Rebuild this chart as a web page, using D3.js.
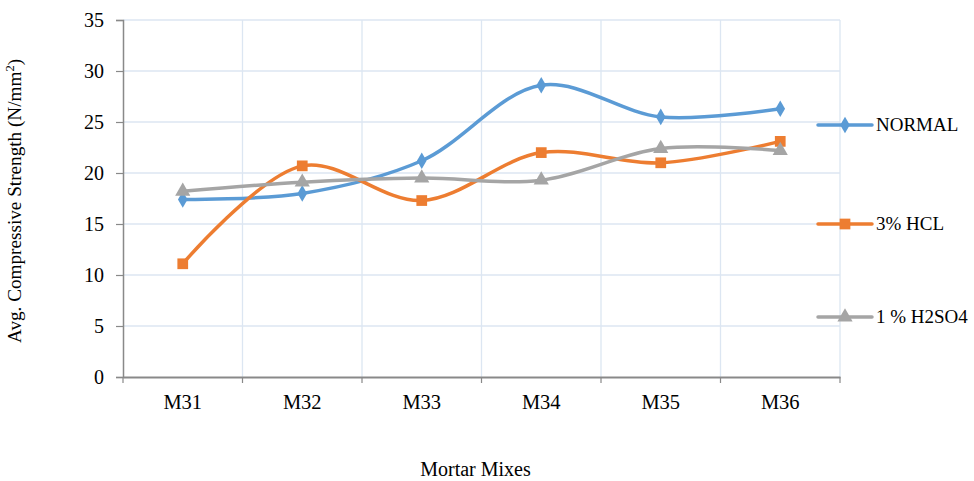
<!DOCTYPE html>
<html><head><meta charset="utf-8">
<script src="https://cdn.jsdelivr.net/npm/d3@7"></script>
<style>body{margin:0;background:#fff}svg{display:block}
svg text{font-family:"Liberation Serif","Times New Roman",Tinos,"DejaVu Serif",serif !important;fill:#000}</style>
</head><body>
<svg id="c" width="974" height="481"></svg>
<script>
const categories = ["M31","M32","M33","M34","M35","M36"];
const seriesNames = ["NORMAL","3% HCL","1 % H2SO4"];
const normal = [17.4, 18.0, 21.2, 28.6, 25.5, 26.3];
const hcl = [11.1, 20.7, 17.3, 22.0, 21.0, 23.1];
const h2so4 = [18.2, 19.1, 19.5, 19.3, 22.4, 22.2];
const yTicks = [0,5,10,15,20,25,30,35];

const colors = ["#5b9bd5","#ed7d31","#a5a5a5"];
const symbols = [d3.symbolDiamond, d3.symbolSquare, d3.symbolTriangle];
const symSizes = [80, 115, 100];
const data = [normal, hcl, h2so4];
const FONT = '"Liberation Serif", "Times New Roman", Tinos, "DejaVu Serif", serif';

const svg = d3.select("#c");
const L = 123, R = 840, T = 20, B = 377;
const x = d3.scaleBand().domain(categories).range([L, R]);
const y = d3.scaleLinear().domain([0,35]).range([B, T]);

// gridlines
const g = svg.append("g");
g.selectAll("line.h").data(yTicks.filter(d=>d>0)).join("line")
  .attr("x1", L).attr("x2", R).attr("y1", d=>y(d)).attr("y2", d=>y(d))
  .attr("stroke", "#dce6f2").attr("stroke-width", 1.3);
const bounds = categories.map(c => x(c)).slice(1).concat([R]);
g.selectAll("line.v").data(bounds).join("line")
  .attr("x1", d=>d).attr("x2", d=>d).attr("y1", T).attr("y2", B)
  .attr("stroke", "#dce6f2").attr("stroke-width", 1.3);

// y axis
const ya = svg.append("g").attr("transform", `translate(${L},0)`)
  .call(d3.axisLeft(y).tickValues(yTicks).tickSize(7).tickPadding(12));
ya.attr("font-family", FONT);
ya.select(".domain").attr("stroke", "#898989").attr("stroke-width", 1.5);
ya.selectAll(".tick line").attr("stroke", "#898989").attr("stroke-width", 1.2);
ya.selectAll(".tick text").attr("font-size", 20);

// x axis
const xa = svg.append("g").attr("transform", `translate(0,${B})`)
  .call(d3.axisBottom(x).tickSize(0).tickPadding(17.5));
xa.attr("font-family", FONT);
xa.select(".domain").attr("stroke", "#898989").attr("stroke-width", 1.8);
xa.selectAll(".tick text").attr("font-size", 20.5);
svg.append("g").selectAll("line").data([L].concat(bounds)).join("line")
  .attr("x1", d=>d).attr("x2", d=>d).attr("y1", B).attr("y2", B+6)
  .attr("stroke", "#898989").attr("stroke-width", 1.2);

// lines
const cx = c => x(c) + x.bandwidth()/2;
const line = d3.line().x((d,i)=>cx(categories[i])).y(d=>y(d)).curve(d3.curveCatmullRom.alpha(0.5));
data.forEach((s, k) => {
  svg.append("path").datum(s).attr("d", line).attr("fill", "none")
    .attr("stroke", colors[k]).attr("stroke-width", 3.5).attr("stroke-linecap", "round");
});
data.forEach((s, k) => {
  svg.append("g").selectAll("path").data(s).join("path")
    .attr("d", d3.symbol().type(symbols[k]).size(symSizes[k]))
    .attr("transform", (d,i)=>`translate(${cx(categories[i])},${y(d)})`)
    .attr("fill", colors[k]);
});

// legend
const legY = [125, 224, 317];
seriesNames.forEach((n, k) => {
  const lg = svg.append("g").attr("transform", `translate(0,${legY[k]})`);
  lg.append("line").attr("x1", 818).attr("x2", 872).attr("y1", 0).attr("y2", 0)
    .attr("stroke", colors[k]).attr("stroke-width", 3.5).attr("stroke-linecap","round");
  lg.append("path").attr("d", d3.symbol().type(symbols[k]).size(symSizes[k])())
    .attr("transform", "translate(845,0)").attr("fill", colors[k]);
  lg.append("text").attr("x", 876).attr("y", 0).attr("dy", "0.33em")
    .attr("font-family", FONT).attr("font-size", 19).text(n);
});

// axis titles
svg.append("text").attr("transform", `translate(20.5,201) rotate(-90)`)
  .attr("text-anchor", "middle").attr("font-size", 19.2).attr("font-family", FONT)
  .html('Avg. Compressive Strength (N/mm<tspan baseline-shift="super" font-size="12.5">2</tspan>)');
svg.append("text").attr("x", 475.5).attr("y", 476).attr("text-anchor", "middle")
  .attr("font-size", 20).attr("font-family", FONT).text("Mortar Mixes");
</script>
</body></html>
